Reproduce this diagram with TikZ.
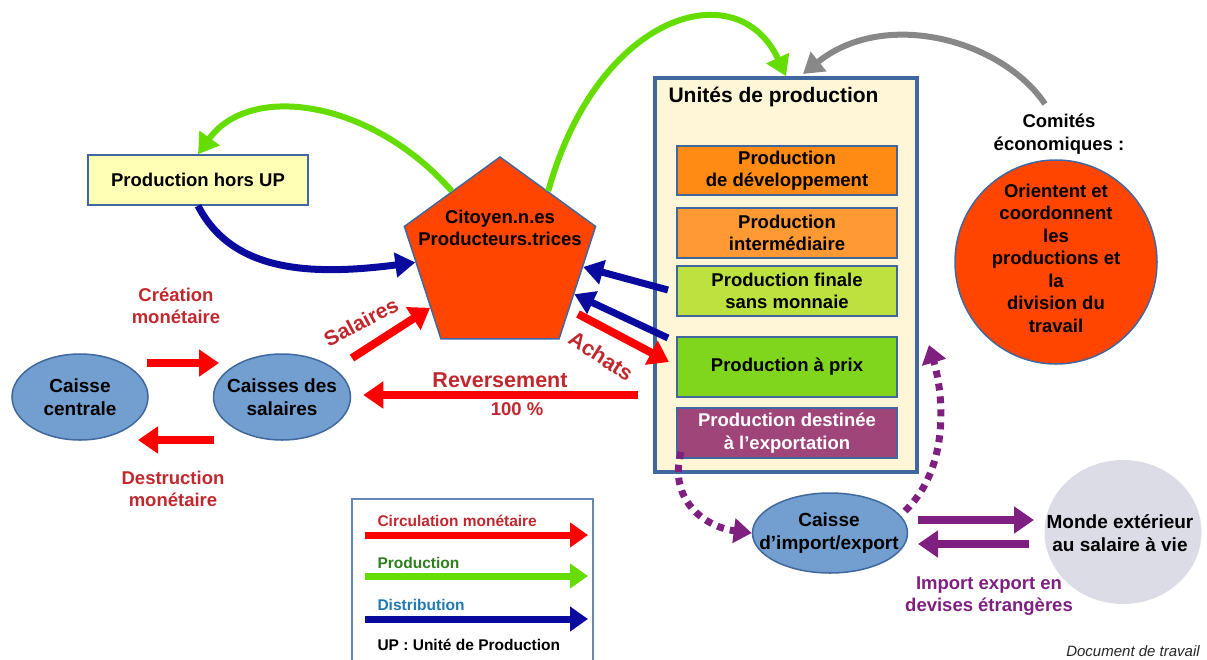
\documentclass[tikz,border=0pt]{standalone}
\usepackage{fontspec}
\setmainfont{Liberation Sans}
\usetikzlibrary{arrows.meta,shapes.geometric,calc}
\definecolor{arrred}{HTML}{FF0000}
\definecolor{lblred}{HTML}{C0282D}
\definecolor{arrgreen}{HTML}{66DD00}
\definecolor{arrblue}{HTML}{0A0A9E}
\definecolor{arrgrey}{HTML}{888888}
\definecolor{arrpurple}{HTML}{7F1F7F}
\definecolor{pentfill}{HTML}{FF4500}
\definecolor{bordblue}{HTML}{41689E}
\definecolor{ellfill}{HTML}{729FCF}
\definecolor{unitsfill}{HTML}{FFF5D7}
\definecolor{horsfill}{HTML}{FFFFB5}
\definecolor{devfill}{HTML}{FF8A14}
\definecolor{interfill}{HTML}{FF9933}
\definecolor{finfill}{HTML}{BDE13F}
\definecolor{prixfill}{HTML}{7FD61C}
\definecolor{expfill}{HTML}{A04579}
\definecolor{mondefill}{HTML}{DCDCE6}
\definecolor{legGreen}{HTML}{2E7D1E}
\definecolor{legBlue}{HTML}{1F78B4}
\tikzset{
  base/.style={font=\fontsize{18.5}{22.5}\selectfont\bfseries},
  innerbox/.style={draw=bordblue, line width=2pt, minimum width=220pt, inner sep=0pt, align=center, base},
  caisse/.style={ellipse, draw=bordblue, line width=1.5pt, fill=ellfill, inner sep=0pt},
  ctext/.style={align=center, font=\fontsize{19}{23}\selectfont\bfseries},
  redlbl/.style={text=lblred, align=center, base},
  redarr/.style={draw=arrred, line width=8pt, -{Triangle[length=20pt,width=26pt]}},
  bluearr/.style={draw=arrblue, line width=7pt, -{Triangle[length=20pt,width=24pt]}},
  greenarr/.style={draw=arrgreen, line width=6pt, -{Triangle[length=20pt,width=24pt]}},
  greyarr/.style={draw=arrgrey, line width=6pt, -{Triangle[length=20pt,width=24pt]}},
  purparr/.style={draw=arrpurple, line width=8pt, -{Triangle[length=20pt,width=26pt]}},
  purpdot/.style={draw=arrpurple, line width=7pt, dash pattern=on 7pt off 6pt, -{Triangle[length=18pt,width=24pt]}},
  legarr/.style={line width=7pt, -{Triangle[length=18pt,width=24pt]}},
  legtxt/.style={anchor=west, font=\fontsize{15.5}{18}\selectfont\bfseries}
}
\begin{document}
\begin{tikzpicture}[x=1pt,y=-1pt]
\useasboundingbox (0,0) rectangle (1207,659);

% Production hors UP
\node[draw=bordblue, line width=1.5pt, fill=horsfill, minimum width=220pt, minimum height=50pt, inner sep=0pt, base] (hors) at (198,180) {Production hors UP};

% Pentagon
\node[regular polygon, regular polygon sides=5, minimum size=201pt, inner sep=0pt, draw=bordblue, line width=1.5pt, fill=pentfill] (pent) at (500,257.5) {};
\node[align=center, base] (penttxt) at (500,228) {Citoyen.n.es\\Producteurs.trices};

% Unités de production
\node[draw=bordblue, line width=3.5pt, fill=unitsfill, minimum width=262pt, minimum height=394pt, inner sep=0pt] (units) at (786,275) {};
\node[anchor=west, font=\fontsize{21}{24}\selectfont\bfseries] (unitstitle) at (665,97) {Unités de production};
\node[innerbox, fill=devfill, minimum height=49pt] (dev) at (787,170.5) {Production\\de développement};
\node[innerbox, fill=interfill, minimum height=50pt] (inter) at (787,233) {Production\\intermédiaire};
\node[innerbox, fill=finfill, minimum height=50pt] (fin) at (787,291) {Production finale\\sans monnaie};
\node[innerbox, fill=prixfill, minimum height=60pt] (prix) at (787,367) {Production à prix};
\node[innerbox, fill=expfill, minimum height=50pt, text=white] (exp) at (787,433) {Production destinée\\à l’exportation};

% Comités
\node[align=center, base] (comtxt) at (1059,134) {Comités\\économiques :};
\node[ellipse, draw=bordblue, line width=1.5pt, fill=pentfill, minimum width=202pt, minimum height=204pt, inner sep=0pt] (com) at (1056,262) {};
\node[align=center, base] (comin) at (1056,258) {Orientent et\\coordonnent\\les\\productions et\\la\\division du\\travail};

% Caisses
\node[caisse, minimum width=136pt, minimum height=86pt] (centrale) at (80,397) {};
\node[ctext] (centraletxt) at (80,397) {Caisse\\centrale};
\node[caisse, minimum width=137pt, minimum height=86pt] (sal) at (282,397) {};
\node[ctext] (saltxt) at (282,397) {Caisses des\\salaires};
\node[caisse, minimum width=155pt, minimum height=80pt] (imex) at (830,533) {};
\node[ctext] (imextxt) at (829,533) {Caisse\\d’import/export};
\node[ellipse, fill=mondefill, minimum width=157pt, minimum height=144pt, inner sep=0pt] (monde) at (1123,532) {};
\node[ctext] (mondetxt) at (1120,533) {Monde extérieur\\au salaire à vie};

% Labels
\node[redlbl] (creation) at (176,306) {Création\\monétaire};
\node[redlbl] (destruction) at (173,489) {Destruction\\monétaire};
\node[text=lblred, font=\fontsize{21.5}{24}\selectfont\bfseries] (revlbl) at (500,380) {Reversement};
\node[redlbl] (pct) at (517,409) {100 \%};
\node[text=lblred, rotate=28, font=\fontsize{21}{24}\selectfont\bfseries] (sallbl) at (361,322) {Salaires};
\node[text=lblred, rotate=-33, font=\fontsize{21.5}{24}\selectfont\bfseries] (achlbl) at (601,356) {Achats};
\node[text=arrpurple, align=center, base] (devlbl) at (989,596) {Import export en\\devises étrangères};
\node[font=\fontsize{15}{18}\selectfont\itshape, text=black!85] (doc) at (1133,651) {Document de travail};

% Coordinates for arrows
\coordinate (cre1) at (147,363);
\coordinate (cre2) at (219,363);
\coordinate (des1) at (214,440);
\coordinate (des2) at (138,440);
\coordinate (revs) at (638,395);
\coordinate (sals) at (352,358);
\coordinate (achs) at (578,314);
\coordinate (ache) at (669,362);
\coordinate (b1s) at (668,290);
\coordinate (b2s) at (668,338);
\coordinate (greys) at (1045,104);
\coordinate (greye) at (803,74);
\coordinate (exps) at (681,452);
\coordinate (imxs) at (905,511);
\coordinate (imxe) at (929,345);
\coordinate (pa1s) at (918,520);
\coordinate (pa1e) at (1034,520);
\coordinate (pa2s) at (1029,544);
\coordinate (pa2e) at (918,544);

% Red arrows
\draw[redarr] (cre1) -- (cre2);
\draw[redarr] (des1) -- (des2);
\draw[redarr, shorten >=12pt] (revs) -- (sal.east |- revs);
\draw[redarr] (sals) -- ($(pent.corner 2)!0.72!(pent.corner 3)$);
\draw[redarr] (achs) -- (ache);

% Blue arrows
\draw[bluearr] (hors.south) .. controls (232,272) and (310,276) .. ($(pent.corner 2)!0.32!(pent.corner 3)$);
\draw[bluearr] (b1s) -- ($(pent.corner 5)!0.36!(pent.corner 4)$);
\draw[bluearr] (b2s) -- ($(pent.corner 5)!0.6!(pent.corner 4)$);

% Green arrows
\draw[greenarr] ($(pent.corner 1)!0.5!(pent.corner 2)$) .. controls (372,100) and (250,82) .. (hors.north);
\draw[greenarr] ($(pent.corner 1)!0.5!(pent.corner 5)$) .. controls (598,12) and (738,-28) .. (units.north);

% Grey arrow
\draw[greyarr] (greys) .. controls (1002,40) and (885,8) .. (greye);

% Purple
\draw[purpdot] (exps) .. controls (668,500) and (705,527) .. (imex.west);
\draw[purpdot] (imxs) .. controls (948,470) and (945,400) .. (imxe);
\draw[purparr] (pa1s) -- (pa1e);
\draw[purparr] (pa2s) -- (pa2e);

% Legend
\draw[draw=bordblue!80, line width=1.2pt] (352,662) -- (352,499) -- (593,499) -- (593,662);
\node[legtxt, text=lblred] (l1) at (374,521) {Circulation monétaire};
\coordinate (l1s) at (365,535); \coordinate (l1e) at (588,535);
\draw[legarr, draw=arrred] (l1s) -- (l1e);
\node[legtxt, text=legGreen] (l2) at (374,563) {Production};
\coordinate (l2s) at (365,576); \coordinate (l2e) at (588,576);
\draw[legarr, draw=arrgreen] (l2s) -- (l2e);
\node[legtxt, text=legBlue] (l3) at (374,605) {Distribution};
\coordinate (l3s) at (365,619); \coordinate (l3e) at (588,619);
\draw[legarr, draw=arrblue] (l3s) -- (l3e);
\node[legtxt] (l4) at (374,645) {UP : Unité de Production};
\end{tikzpicture}
\end{document}
